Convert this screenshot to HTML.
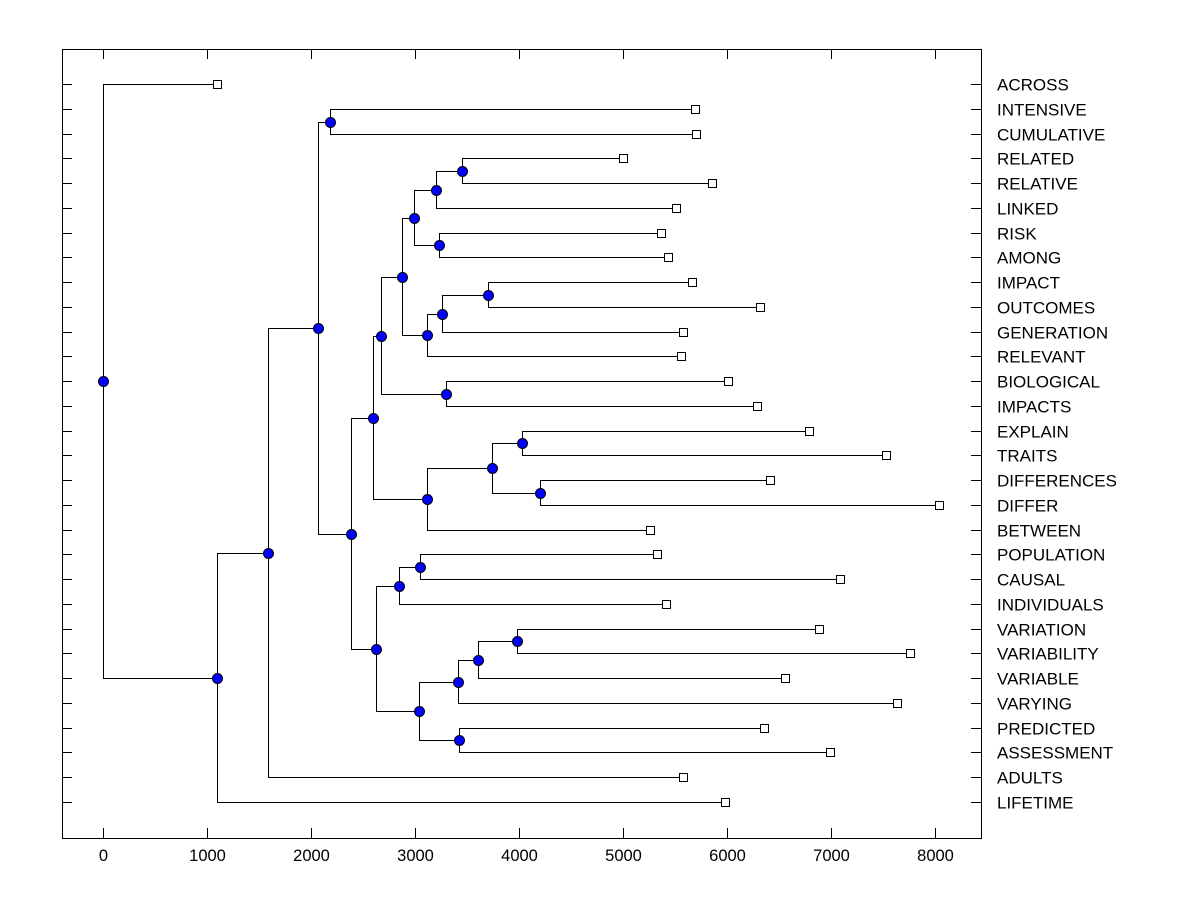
<!DOCTYPE html>
<html><head><meta charset="utf-8">
<style>
html,body{margin:0;padding:0;background:#fff;}
svg{display:block;font-family:"Liberation Sans",Arial,sans-serif;}
</style></head>
<body>
<svg id="chart" width="1200" height="900"></svg>
<script>
const leafNames = ["ACROSS","INTENSIVE","CUMULATIVE","RELATED","RELATIVE","LINKED","RISK","AMONG","IMPACT","OUTCOMES","GENERATION","RELEVANT","BIOLOGICAL","IMPACTS","EXPLAIN","TRAITS","DIFFERENCES","DIFFER","BETWEEN","POPULATION","CAUSAL","INDIVIDUALS","VARIATION","VARIABILITY","VARIABLE","VARYING","PREDICTED","ASSESSMENT","ADULTS","LIFETIME"];
const leafValues = [1096,5692,5702,5000,5856,5510,5365,5433,5663,6317,5577,5558,6010,6288,6788,7529,6413,8038,5260,5327,7087,5413,6885,7760,6558,7635,6356,6990,5577,5981];
const nodeIds = ["root","nA","nB","nC","nD","nE","nF","nG","nH","nI","nJ","nK","nL","nM","nN","nO","nP","nQ","nR","nS","nT","nU","nV","nW","nX","nY","nZ","nAA","nAB"];
const nodeHeights = [0,1096,1587,2067,2183,2385,2596,2625,2673,3115,2875,3298,2990,3115,3202,3231,3452,3260,3702,3740,4029,4202,2846,3038,3048,3413,3423,3606,3981];
const nodeChildA = ["ACROSS","nB","nC","nD","INTENSIVE","nF","nH","nV","nJ","nS","nL","BIOLOGICAL","nN","nQ","nP","RISK","RELATED","nR","IMPACT","nT","EXPLAIN","DIFFERENCES","nX","nY","POPULATION","nAA","PREDICTED","nAB","VARIATION"];
const nodeChildB = ["nA","LIFETIME","ADULTS","nE","CUMULATIVE","nG","nI","nW","nK","BETWEEN","nM","IMPACTS","nO","RELEVANT","LINKED","AMONG","RELATIVE","GENERATION","OUTCOMES","nU","TRAITS","DIFFER","INDIVIDUALS","nZ","CAUSAL","VARYING","ASSESSMENT","VARIABLE","VARIABILITY"];
const xTicks = [0,1000,2000,3000,4000,5000,6000,7000,8000];

const NS="http://www.w3.org/2000/svg";
const svg=document.getElementById('chart');
const L=62,R=981,T=49,B=838;
const X=v=>Math.round(103+v*0.104)+0.5;
const Y0=84, DY=(802-84)/(leafNames.length-1);
function mk(tag,attrs,parent){const e=document.createElementNS(NS,tag);for(const k in attrs)e.setAttribute(k,attrs[k]);(parent||svg).appendChild(e);return e;}

const frame=mk('rect',{x:L+0.5,y:T+0.5,width:R-L,height:B-T,fill:'none',stroke:'#000','stroke-width':1});



const pos={};
leafNames.forEach((n,i)=>{pos[n]={x:X(leafValues[i]),y:Math.round(Y0+i*DY)+0.5};});
const nodeMap={};
nodeIds.forEach((id,i)=>nodeMap[id]=i);
function getPos(id){
  if(pos[id])return pos[id];
  const i=nodeMap[id];
  const a=getPos(nodeChildA[i]),b=getPos(nodeChildB[i]);
  pos[id]={x:X(nodeHeights[i]),y:Math.round((a.y+b.y)/2-0.5)+0.5};
  return pos[id];
}
const linkG=mk('g',{});


nodeIds.forEach((id,i)=>{
  const p=getPos(id);
  [nodeChildA[i],nodeChildB[i]].forEach(c=>{
    const q=getPos(c);
    const pl=mk('polyline',{points:`${p.x},${p.y} ${p.x},${q.y} ${q.x},${q.y}`,fill:'none',stroke:'#000','stroke-width':1},linkG);
    
    
  });
});
leafNames.forEach((n,i)=>{
  const y=Math.round(Y0+i*DY)+0.5;
  const t1=mk('line',{x1:L,x2:L+10,y1:y,y2:y,stroke:'#000'});
  
  
  const t2=mk('line',{x1:R-10,x2:R,y1:y,y2:y,stroke:'#000'});
  
  
  const tx=mk('text',{x:997,y:y+6,'font-size':17,fill:'#000'});
  tx.textContent=n;
  
  
});
xTicks.forEach(v=>{
  const x=X(v);
  const a=mk('line',{x1:x,x2:x,y1:B-10,y2:B,stroke:'#000'});
  
  
  const b=mk('line',{x1:x,x2:x,y1:T,y2:T+10,stroke:'#000'});
  
  
  const t=mk('text',{x:x,y:861,'font-size':16.5,'text-anchor':'middle',fill:'#000'});
  t.textContent=v;
  
  
});
leafNames.forEach(n=>{
  const p=pos[n];
  const s=mk('rect',{x:p.x-4,y:p.y-4,width:8,height:8,fill:'#fff',stroke:'#000'});
  
  
});
nodeIds.forEach(id=>{
  const p=pos[id];
  const c=mk('circle',{cx:p.x,cy:p.y,r:5,fill:'#0000ff',stroke:'#000','stroke-width':1});
  
  
});
</script>
</body></html>
